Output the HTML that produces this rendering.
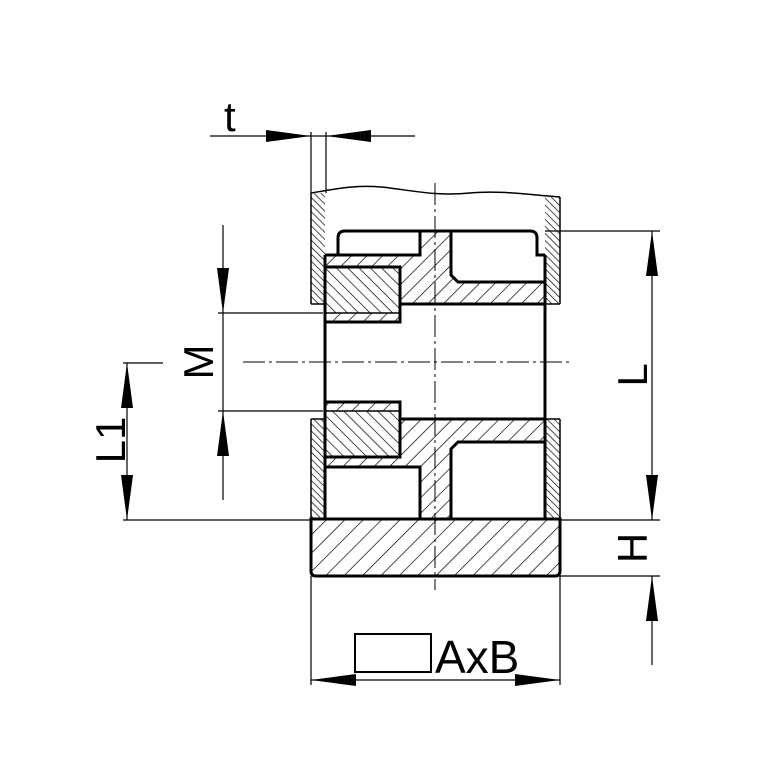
<!DOCTYPE html>
<html><head><style>html,body{margin:0;padding:0;background:#fff;}svg{display:block}</style></head>
<body>
<svg width="778" height="778" viewBox="0 0 778 778" xmlns="http://www.w3.org/2000/svg">
<defs>
<pattern id="hub" width="11" height="11" patternUnits="userSpaceOnUse" patternTransform="rotate(45)"><line x1="0" y1="-1" x2="0" y2="12" stroke="#000" stroke-width="1.4"/></pattern>
<pattern id="tube" width="5" height="5" patternUnits="userSpaceOnUse" patternTransform="rotate(-45)"><line x1="0" y1="-1" x2="0" y2="6" stroke="#000" stroke-width="1.4"/></pattern>
<pattern id="blk" width="8" height="8" patternUnits="userSpaceOnUse" patternTransform="rotate(-45)"><line x1="0" y1="-1" x2="0" y2="9" stroke="#000" stroke-width="1.4"/></pattern>
<pattern id="base" width="13" height="13" patternUnits="userSpaceOnUse" patternTransform="rotate(45)"><line x1="0" y1="-1" x2="0" y2="14" stroke="#000" stroke-width="1.4"/></pattern>
</defs>
<g fill="none" stroke="#000">
<path d="M420,231 L451,231 L451,275 L458,282 L545,282 L545,304 L400,304 L400,267 L325,267 L325,255 L420,255 Z" fill="url(#hub)" stroke="none"/>
<path d="M325,457 L400,457 L400,419 L545,419 L545,442 L458,442 L451,449 L451,519 L420,519 L420,467 L325,467 Z" fill="url(#hub)" stroke="none"/>
<rect x="325" y="313" width="75" height="9" fill="url(#hub)" stroke="none"/>
<rect x="325" y="402" width="75" height="9" fill="url(#hub)" stroke="none"/>
<rect x="325" y="267" width="75" height="46" fill="url(#blk)" stroke="none"/>
<rect x="325" y="411" width="75" height="46" fill="url(#blk)" stroke="none"/>
<path d="M311,193 L325,193 L325,304 L311,304 Z" fill="url(#tube)" stroke="none"/>
<path d="M545,197 L560,197 L560,304 L545,304 Z" fill="url(#tube)" stroke="none"/>
<rect x="311" y="419" width="14" height="100" fill="url(#tube)" stroke="none"/>
<rect x="545" y="419" width="15" height="100" fill="url(#tube)" stroke="none"/>
<path d="M311,519 L560,519 L560,571 Q560,576 555,576 L316,576 Q311,576 311,571 Z" fill="url(#base)" stroke="none"/>

<g stroke-width="3">
<path d="M311,519 L560,519 L560,571 Q560,576 555,576 L316,576 Q311,576 311,571 Z"/>
<line x1="325" y1="255" x2="325" y2="519"/>
<line x1="545" y1="255" x2="545" y2="519"/>
<path d="M338,255 L338,238 Q338,231 345,231 L530,231 Q537,231 537,238 L537,255 L545,255"/>
<path d="M325,255 L420,255 L420,231"/>
<path d="M451,231 L451,275 L458,282 L545,282"/>
<path d="M325,267 L400,267 L400,322 L325,322"/>
<line x1="400" y1="304" x2="545" y2="304"/>
<line x1="400" y1="419" x2="545" y2="419"/>
<path d="M325,402 L400,402 L400,457 L325,457"/>
<path d="M325,467 L420,467 L420,519"/>
<path d="M451,519 L451,449 L458,442 L545,442"/>
</g>
<g stroke-width="1.5">
<line x1="311" y1="193" x2="311" y2="304"/>
<line x1="560" y1="197" x2="560" y2="304"/>
<line x1="311" y1="304" x2="325" y2="304"/>
<line x1="545" y1="304" x2="560" y2="304"/>
<line x1="311" y1="419" x2="325" y2="419"/>
<line x1="545" y1="419" x2="560" y2="419"/>
<line x1="311" y1="419" x2="311" y2="519"/>
<line x1="560" y1="419" x2="560" y2="519"/>
<line x1="325" y1="313" x2="400" y2="313"/>
<line x1="325" y1="411" x2="400" y2="411"/>
<path d="M311,193 C340,188 360,184 390,188 C420,192 440,196 470,193 C500,190 530,195 560,197"/>
</g>
<g stroke-width="1" stroke-dasharray="22,4,3,4">
<line x1="435" y1="183" x2="435" y2="590"/>
<line x1="243" y1="362" x2="572" y2="362"/>
</g>
<g stroke-width="1.2">
<line x1="311" y1="132" x2="311" y2="193"/>
<line x1="326" y1="132" x2="326" y2="193"/>
<line x1="210" y1="136" x2="415" y2="136"/>
<line x1="223" y1="225" x2="223" y2="500"/>
<line x1="218" y1="313" x2="323" y2="313"/>
<line x1="218" y1="411" x2="323" y2="411"/>
<line x1="127" y1="363" x2="127" y2="520"/>
<line x1="123" y1="363" x2="163" y2="363"/>
<line x1="123" y1="520" x2="311" y2="520"/>
<line x1="545" y1="231" x2="660" y2="231"/>
<line x1="560" y1="520" x2="660" y2="520"/>
<line x1="560" y1="576" x2="660" y2="576"/>
<line x1="652" y1="231" x2="652" y2="520"/>
<line x1="652" y1="576" x2="652" y2="665"/>
<line x1="311" y1="576" x2="311" y2="685"/>
<line x1="560" y1="576" x2="560" y2="685"/>
<line x1="311" y1="680" x2="560" y2="680"/>
<rect x="355" y="634" width="76" height="38" stroke-width="2"/>
</g>
</g>
<g fill="#000">
<polygon points="311,136 266,130 266,142"/>
<polygon points="326,136 371,130 371,142"/>
<polygon points="223,313 217,268 229,268"/>
<polygon points="223,411 217,456 229,456"/>
<polygon points="127,363 121,408 133,408"/>
<polygon points="127,520 121,475 133,475"/>
<polygon points="652,231 646,276 658,276"/>
<polygon points="652,520 646,475 658,475"/>
<polygon points="652,576 646,621 658,621"/>
<polygon points="311,680 356,674 356,686"/>
<polygon points="560,680 515,674 515,686"/>
</g>
<g font-family="Liberation Sans, sans-serif" fill="#000">
<text x="224" y="131" font-size="42">t</text>
<text x="435" y="673" font-size="46">AxB</text>
<text transform="translate(213,362) rotate(-90)" font-size="42" text-anchor="middle">M</text>
<text transform="translate(125,440) rotate(-90)" font-size="42" text-anchor="middle">L1</text>
<text transform="translate(647,375) rotate(-90)" font-size="42" text-anchor="middle">L</text>
<text transform="translate(647,548) rotate(-90)" font-size="42" text-anchor="middle">H</text>
</g>
</svg>
</body></html>
